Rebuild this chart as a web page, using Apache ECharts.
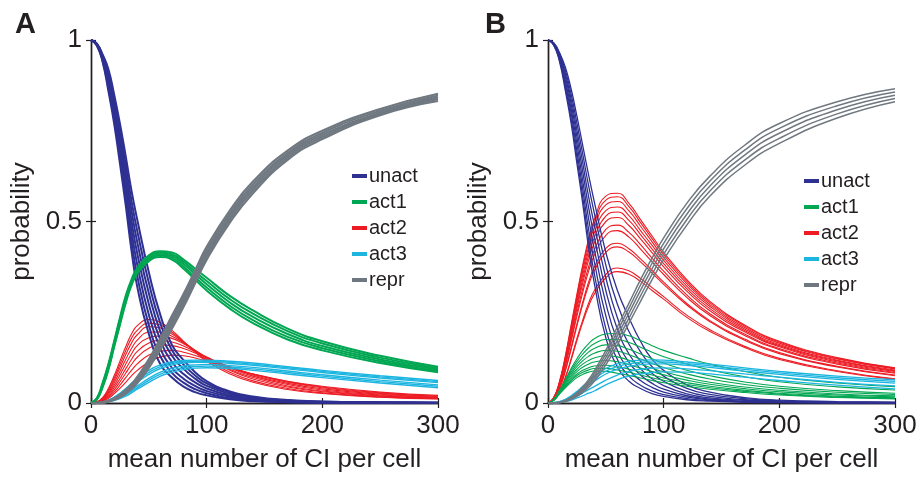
<!DOCTYPE html>
<html>
<head>
<meta charset="utf-8">
<script src="https://cdn.jsdelivr.net/npm/echarts@6/dist/echarts.min.js"></script>
<style>
  html, body { margin: 0; padding: 0; background: #ffffff; }
  #chart { width: 923px; height: 479px; }
</style>
</head>
<body>
<div id="chart"></div>
<script>
// ---------- data ----------
const xs = [0, 5, 10, 15, 20, 25, 30, 35, 40, 50, 60, 70, 80, 90, 100, 120, 140, 170, 200, 250, 300];
const seriesNames = ['unact', 'act1', 'act2', 'act3', 'repr'];
const xTicks = [0, 100, 200, 300];
const yTicks = [0, 0.5, 1];
const panelLabels = ['A', 'B'];

// Panel A
const A_unact = [
  [1, 0.985, 0.94, 0.86, 0.77, 0.66, 0.545, 0.42, 0.32, 0.19, 0.107, 0.07, 0.045, 0.03, 0.021, 0.01, 0.005, 0.002, 0.001, 0.0005, 0],
  [1, 0.986, 0.943, 0.87, 0.783, 0.678, 0.567, 0.447, 0.35, 0.215, 0.128, 0.083, 0.056, 0.038, 0.027, 0.013, 0.007, 0.003, 0.0015, 0.0007, 0.0002],
  [1, 0.987, 0.947, 0.88, 0.797, 0.697, 0.59, 0.474, 0.381, 0.243, 0.15, 0.097, 0.067, 0.047, 0.033, 0.017, 0.009, 0.004, 0.002, 0.001, 0.0003],
  [1, 0.988, 0.95, 0.89, 0.81, 0.715, 0.612, 0.502, 0.412, 0.273, 0.173, 0.113, 0.08, 0.057, 0.04, 0.021, 0.011, 0.005, 0.0025, 0.0012, 0.0005],
  [1, 0.989, 0.953, 0.9, 0.823, 0.734, 0.635, 0.53, 0.443, 0.302, 0.196, 0.13, 0.094, 0.067, 0.047, 0.025, 0.014, 0.006, 0.003, 0.0015, 0.0007],
  [1, 0.99, 0.957, 0.91, 0.837, 0.752, 0.657, 0.557, 0.474, 0.331, 0.219, 0.145, 0.106, 0.076, 0.054, 0.029, 0.016, 0.007, 0.0035, 0.0018, 0.0009],
  [1, 0.99, 0.96, 0.92, 0.85, 0.77, 0.68, 0.585, 0.505, 0.36, 0.242, 0.16, 0.118, 0.085, 0.06, 0.032, 0.018, 0.008, 0.004, 0.002, 0.001]
];
const A_act1 = [
  [0, 0.013, 0.055, 0.107, 0.17, 0.235, 0.295, 0.34, 0.372, 0.407, 0.418, 0.415, 0.395, 0.37, 0.345, 0.295, 0.255, 0.205, 0.17, 0.13, 0.1],
  [0, 0.012, 0.052, 0.103, 0.166, 0.23, 0.29, 0.336, 0.368, 0.403, 0.414, 0.41, 0.389, 0.362, 0.336, 0.286, 0.246, 0.198, 0.164, 0.125, 0.096],
  [0, 0.011, 0.049, 0.099, 0.162, 0.225, 0.285, 0.332, 0.364, 0.399, 0.41, 0.405, 0.383, 0.355, 0.327, 0.277, 0.237, 0.19, 0.157, 0.12, 0.092],
  [0, 0.01, 0.046, 0.095, 0.158, 0.22, 0.28, 0.328, 0.36, 0.395, 0.406, 0.4, 0.376, 0.347, 0.318, 0.268, 0.228, 0.182, 0.151, 0.115, 0.088],
  [0, 0.009, 0.043, 0.091, 0.154, 0.215, 0.275, 0.324, 0.356, 0.391, 0.402, 0.395, 0.37, 0.34, 0.31, 0.26, 0.22, 0.175, 0.145, 0.11, 0.085]
];
const A_act2 = [
  [0, 0.003, 0.015, 0.04, 0.075, 0.115, 0.155, 0.19, 0.213, 0.23, 0.222, 0.2, 0.17, 0.14, 0.115, 0.08, 0.057, 0.037, 0.026, 0.016, 0.011],
  [0, 0.003, 0.013, 0.036, 0.068, 0.106, 0.144, 0.178, 0.2, 0.22, 0.215, 0.195, 0.169, 0.143, 0.119, 0.085, 0.061, 0.04, 0.028, 0.017, 0.012],
  [0, 0.002, 0.012, 0.032, 0.062, 0.097, 0.133, 0.165, 0.188, 0.21, 0.207, 0.19, 0.168, 0.145, 0.123, 0.09, 0.066, 0.044, 0.031, 0.019, 0.013],
  [0, 0.002, 0.01, 0.028, 0.055, 0.087, 0.12, 0.15, 0.173, 0.195, 0.196, 0.184, 0.166, 0.145, 0.125, 0.093, 0.07, 0.047, 0.033, 0.02, 0.014],
  [0, 0.002, 0.009, 0.025, 0.048, 0.077, 0.107, 0.135, 0.158, 0.18, 0.185, 0.178, 0.163, 0.145, 0.127, 0.097, 0.074, 0.051, 0.036, 0.022, 0.015],
  [0, 0.001, 0.008, 0.021, 0.042, 0.067, 0.094, 0.12, 0.142, 0.165, 0.172, 0.168, 0.157, 0.142, 0.126, 0.099, 0.077, 0.054, 0.039, 0.024, 0.016],
  [0, 0.001, 0.007, 0.018, 0.036, 0.058, 0.082, 0.106, 0.126, 0.151, 0.16, 0.158, 0.15, 0.138, 0.125, 0.1, 0.079, 0.057, 0.042, 0.026, 0.018],
  [0, 0.001, 0.006, 0.015, 0.03, 0.049, 0.07, 0.09, 0.108, 0.132, 0.143, 0.145, 0.14, 0.131, 0.12, 0.099, 0.08, 0.059, 0.044, 0.028, 0.019],
  [0, 0.001, 0.005, 0.012, 0.025, 0.04, 0.057, 0.075, 0.09, 0.113, 0.127, 0.132, 0.13, 0.124, 0.115, 0.097, 0.08, 0.06, 0.046, 0.03, 0.021]
];
const A_act3 = [
  [0, 0.001, 0.003, 0.008, 0.016, 0.027, 0.04, 0.054, 0.067, 0.09, 0.105, 0.113, 0.117, 0.118, 0.118, 0.115, 0.11, 0.1, 0.09, 0.075, 0.062],
  [0, 0.0008, 0.0025, 0.007, 0.0145, 0.0245, 0.0365, 0.0495, 0.062, 0.0845, 0.1, 0.109, 0.1135, 0.115, 0.115, 0.112, 0.107, 0.097, 0.087, 0.072, 0.059],
  [0, 0.0005, 0.002, 0.006, 0.013, 0.022, 0.033, 0.045, 0.057, 0.079, 0.095, 0.105, 0.11, 0.112, 0.112, 0.109, 0.104, 0.094, 0.084, 0.069, 0.056],
  [0, 0, 0.0015, 0.0045, 0.01, 0.017, 0.026, 0.036, 0.047, 0.068, 0.085, 0.096, 0.102, 0.105, 0.106, 0.103, 0.098, 0.088, 0.078, 0.063, 0.05],
  [0, 0, 0.0012, 0.0037, 0.0085, 0.0145, 0.0225, 0.032, 0.0425, 0.0625, 0.0795, 0.0905, 0.097, 0.1005, 0.1015, 0.099, 0.094, 0.084, 0.074, 0.059, 0.046],
  [0, 0, 0.001, 0.003, 0.007, 0.012, 0.019, 0.028, 0.038, 0.057, 0.074, 0.085, 0.092, 0.096, 0.097, 0.095, 0.09, 0.08, 0.07, 0.055, 0.042]
];
const A_repr = [
  [0, 0, 0.002, 0.006, 0.013, 0.023, 0.036, 0.052, 0.072, 0.12, 0.178, 0.24, 0.3, 0.365, 0.43, 0.53, 0.61, 0.695, 0.75, 0.81, 0.852],
  [0, 0, 0.0017, 0.0055, 0.012, 0.021, 0.0335, 0.0485, 0.0675, 0.114, 0.17, 0.231, 0.291, 0.356, 0.421, 0.521, 0.602, 0.688, 0.744, 0.805, 0.847],
  [0, 0, 0.0015, 0.005, 0.011, 0.019, 0.031, 0.045, 0.063, 0.108, 0.163, 0.222, 0.283, 0.347, 0.412, 0.513, 0.594, 0.682, 0.738, 0.8, 0.842],
  [0, 0, 0.0012, 0.0045, 0.01, 0.0175, 0.0285, 0.042, 0.059, 0.1025, 0.1555, 0.2135, 0.274, 0.3385, 0.4035, 0.505, 0.586, 0.676, 0.7325, 0.7965, 0.837],
  [0, 0, 0.001, 0.004, 0.009, 0.016, 0.026, 0.039, 0.055, 0.097, 0.148, 0.205, 0.265, 0.33, 0.395, 0.497, 0.578, 0.67, 0.727, 0.793, 0.832]
];

// Panel B
const B_unact = [
  [1, 0.985, 0.94, 0.86, 0.77, 0.66, 0.55, 0.43, 0.33, 0.18, 0.1, 0.06, 0.04, 0.026, 0.018, 0.009, 0.005, 0.002, 0.001, 0, 0],
  [1, 0.986, 0.944, 0.869, 0.783, 0.676, 0.568, 0.453, 0.357, 0.205, 0.12, 0.074, 0.049, 0.033, 0.023, 0.012, 0.007, 0.003, 0.0015, 0.0005, 0.0002],
  [1, 0.987, 0.948, 0.878, 0.797, 0.694, 0.59, 0.48, 0.39, 0.24, 0.145, 0.092, 0.062, 0.043, 0.03, 0.016, 0.009, 0.004, 0.002, 0.0008, 0.0003],
  [1, 0.988, 0.951, 0.888, 0.81, 0.714, 0.613, 0.51, 0.424, 0.275, 0.172, 0.112, 0.077, 0.054, 0.038, 0.02, 0.011, 0.005, 0.0025, 0.001, 0.0005],
  [1, 0.989, 0.955, 0.898, 0.824, 0.733, 0.638, 0.54, 0.458, 0.31, 0.203, 0.135, 0.094, 0.067, 0.048, 0.025, 0.014, 0.007, 0.0035, 0.0015, 0.0007],
  [1, 0.99, 0.958, 0.907, 0.837, 0.752, 0.662, 0.57, 0.492, 0.345, 0.235, 0.162, 0.115, 0.082, 0.06, 0.032, 0.018, 0.009, 0.0045, 0.002, 0.001],
  [1, 0.991, 0.962, 0.916, 0.851, 0.771, 0.686, 0.6, 0.524, 0.38, 0.272, 0.197, 0.141, 0.1, 0.074, 0.04, 0.024, 0.012, 0.006, 0.003, 0.0015],
  [1, 0.992, 0.965, 0.925, 0.865, 0.79, 0.71, 0.63, 0.555, 0.415, 0.31, 0.235, 0.17, 0.12, 0.09, 0.05, 0.03, 0.015, 0.008, 0.004, 0.002]
];
const B_act1 = [
  [0, 0.01, 0.035, 0.065, 0.095, 0.122, 0.145, 0.163, 0.177, 0.19, 0.192, 0.185, 0.172, 0.158, 0.145, 0.125, 0.107, 0.087, 0.071, 0.055, 0.045],
  [0, 0.01, 0.034, 0.0625, 0.09, 0.1145, 0.135, 0.1515, 0.1635, 0.175, 0.175, 0.1665, 0.1535, 0.14, 0.1275, 0.1075, 0.091, 0.0725, 0.0585, 0.0445, 0.036],
  [0, 0.01, 0.033, 0.06, 0.085, 0.107, 0.125, 0.14, 0.15, 0.16, 0.158, 0.148, 0.135, 0.122, 0.11, 0.09, 0.075, 0.058, 0.046, 0.034, 0.027],
  [0, 0.0095, 0.0315, 0.057, 0.08, 0.1, 0.116, 0.1285, 0.137, 0.145, 0.1425, 0.133, 0.121, 0.109, 0.098, 0.08, 0.066, 0.051, 0.0405, 0.0295, 0.0235],
  [0, 0.009, 0.03, 0.054, 0.075, 0.093, 0.107, 0.117, 0.124, 0.13, 0.127, 0.118, 0.107, 0.096, 0.086, 0.07, 0.057, 0.044, 0.035, 0.025, 0.02],
  [0, 0.0085, 0.0285, 0.0505, 0.07, 0.0865, 0.0985, 0.107, 0.113, 0.117, 0.1135, 0.1055, 0.096, 0.0865, 0.0775, 0.063, 0.0515, 0.0395, 0.031, 0.022, 0.017],
  [0, 0.008, 0.027, 0.047, 0.065, 0.08, 0.09, 0.097, 0.102, 0.104, 0.1, 0.093, 0.085, 0.077, 0.069, 0.056, 0.046, 0.035, 0.027, 0.019, 0.014],
  [0, 0.008, 0.026, 0.0445, 0.061, 0.075, 0.0845, 0.091, 0.095, 0.0955, 0.091, 0.0845, 0.077, 0.0695, 0.0625, 0.051, 0.042, 0.032, 0.0245, 0.017, 0.0125],
  [0, 0.008, 0.025, 0.042, 0.057, 0.07, 0.079, 0.085, 0.088, 0.087, 0.082, 0.076, 0.069, 0.062, 0.056, 0.046, 0.038, 0.029, 0.022, 0.015, 0.011]
];
const B_act2 = [
  [0, 0.015, 0.06, 0.13, 0.215, 0.3, 0.38, 0.45, 0.505, 0.57, 0.578, 0.55, 0.505, 0.46, 0.415, 0.34, 0.28, 0.215, 0.17, 0.125, 0.097],
  [0, 0.015, 0.059, 0.127, 0.21, 0.294, 0.373, 0.441, 0.495, 0.559, 0.568, 0.541, 0.497, 0.453, 0.409, 0.335, 0.276, 0.212, 0.168, 0.123, 0.096],
  [0, 0.014, 0.057, 0.123, 0.205, 0.286, 0.363, 0.43, 0.483, 0.546, 0.555, 0.529, 0.487, 0.444, 0.401, 0.329, 0.271, 0.208, 0.165, 0.121, 0.094],
  [0, 0.014, 0.055, 0.119, 0.198, 0.278, 0.352, 0.418, 0.469, 0.53, 0.54, 0.516, 0.475, 0.434, 0.393, 0.322, 0.266, 0.204, 0.161, 0.118, 0.091],
  [0, 0.013, 0.053, 0.115, 0.191, 0.269, 0.341, 0.405, 0.455, 0.515, 0.526, 0.503, 0.464, 0.424, 0.384, 0.315, 0.26, 0.2, 0.158, 0.116, 0.089],
  [0, 0.012, 0.05, 0.111, 0.185, 0.26, 0.33, 0.392, 0.441, 0.5, 0.511, 0.489, 0.452, 0.414, 0.375, 0.308, 0.254, 0.196, 0.155, 0.113, 0.087],
  [0, 0.012, 0.047, 0.105, 0.175, 0.248, 0.315, 0.374, 0.421, 0.478, 0.49, 0.47, 0.436, 0.399, 0.363, 0.298, 0.246, 0.19, 0.15, 0.11, 0.084],
  [0, 0.011, 0.045, 0.101, 0.169, 0.239, 0.304, 0.362, 0.407, 0.462, 0.475, 0.457, 0.424, 0.389, 0.354, 0.291, 0.241, 0.186, 0.147, 0.107, 0.082],
  [0, 0.01, 0.04, 0.091, 0.153, 0.218, 0.278, 0.332, 0.374, 0.426, 0.44, 0.425, 0.397, 0.365, 0.333, 0.274, 0.227, 0.176, 0.139, 0.101, 0.077],
  [0, 0.009, 0.039, 0.088, 0.148, 0.212, 0.271, 0.323, 0.364, 0.415, 0.43, 0.416, 0.389, 0.358, 0.327, 0.27, 0.224, 0.173, 0.136, 0.099, 0.075],
  [0, 0.007, 0.031, 0.071, 0.122, 0.178, 0.228, 0.274, 0.309, 0.354, 0.372, 0.364, 0.343, 0.318, 0.293, 0.242, 0.202, 0.156, 0.123, 0.089, 0.067],
  [0, 0.007, 0.03, 0.069, 0.118, 0.172, 0.222, 0.266, 0.3, 0.345, 0.362, 0.355, 0.335, 0.31, 0.286, 0.236, 0.197, 0.153, 0.12, 0.087, 0.065]
];
const B_act3 = [
  [0, 0.001, 0.004, 0.01, 0.02, 0.032, 0.046, 0.06, 0.073, 0.095, 0.108, 0.115, 0.118, 0.119, 0.118, 0.113, 0.107, 0.097, 0.087, 0.074, 0.064],
  [0, 0.001, 0.0035, 0.009, 0.018, 0.029, 0.0415, 0.0545, 0.0665, 0.0875, 0.1005, 0.108, 0.112, 0.1135, 0.113, 0.1085, 0.1025, 0.0925, 0.083, 0.0695, 0.0595],
  [0, 0.001, 0.003, 0.008, 0.016, 0.026, 0.037, 0.049, 0.06, 0.08, 0.093, 0.101, 0.106, 0.108, 0.108, 0.104, 0.098, 0.088, 0.079, 0.065, 0.055],
  [0, 0, 0.002, 0.006, 0.012, 0.019, 0.028, 0.037, 0.045, 0.063, 0.077, 0.087, 0.093, 0.096, 0.097, 0.094, 0.089, 0.08, 0.071, 0.057, 0.047],
  [0, 0, 0.001, 0.004, 0.008, 0.014, 0.02, 0.027, 0.033, 0.05, 0.064, 0.074, 0.08, 0.084, 0.086, 0.085, 0.08, 0.071, 0.062, 0.049, 0.039]
];
const B_repr = [
  [0, 0, 0.002, 0.007, 0.016, 0.028, 0.044, 0.064, 0.088, 0.145, 0.21, 0.275, 0.34, 0.4, 0.455, 0.55, 0.625, 0.71, 0.77, 0.83, 0.866],
  [0, 0, 0.0018, 0.0063, 0.0145, 0.0255, 0.04, 0.0585, 0.081, 0.135, 0.1975, 0.2615, 0.325, 0.385, 0.44, 0.535, 0.6115, 0.6965, 0.7565, 0.819, 0.857],
  [0, 0, 0.0015, 0.0055, 0.013, 0.023, 0.036, 0.053, 0.074, 0.125, 0.185, 0.248, 0.31, 0.37, 0.425, 0.52, 0.598, 0.683, 0.743, 0.808, 0.848],
  [0, 0, 0.0012, 0.0048, 0.0115, 0.0205, 0.0325, 0.048, 0.067, 0.115, 0.1725, 0.234, 0.295, 0.355, 0.41, 0.505, 0.584, 0.669, 0.729, 0.7965, 0.839],
  [0, 0, 0.001, 0.004, 0.01, 0.018, 0.029, 0.043, 0.06, 0.105, 0.16, 0.22, 0.28, 0.34, 0.395, 0.49, 0.57, 0.655, 0.715, 0.785, 0.83]
];

// ---------- styling ----------
const FONT = '"Liberation Sans", Arial, Helvetica, sans-serif';
const INK = '#231f20';
const colors = { unact: '#2e3192', act1: '#00a651', act2: '#ed1c24', act3: '#1cb5e0', repr: '#6f7880' };
const widths = [
  { unact: 2.0, act1: 2.0, act2: 1.1, act3: 1.4, repr: 2.2 },
  { unact: 1.3, act1: 1.1, act2: 1.1, act3: 1.3, repr: 1.5 }
];
const drawOrder = ['act2', 'unact', 'act1', 'act3', 'repr'];
const panelData = [
  { unact: A_unact, act1: A_act1, act2: A_act2, act3: A_act3, repr: A_repr },
  { unact: B_unact, act1: B_act1, act2: B_act2, act3: B_act3, repr: B_repr }
];
const gridLeft = [91, 548];

function pts(ys) { return xs.map((x, i) => [x, ys[i]]); }

const grids = [], xAxes = [], yAxes = [], series = [], legends = [], titles = [];
panelData.forEach((pd, p) => {
  grids.push({ left: gridLeft[p], top: 40, width: 347, height: 363, show: false, containLabel: false });
  const axLine = { show: true, lineStyle: { color: INK, width: 1.4 } };
  xAxes.push({
    type: 'value', gridIndex: p, position: 'bottom', min: xTicks[0], max: xTicks[xTicks.length - 1], interval: 100,
    axisLine: axLine, axisTick: { show: true, inside: true, length: 5, lineStyle: { color: INK, width: 1.2 } },
    splitLine: { show: false },
    axisLabel: { show: true, fontSize: 26, color: INK, fontFamily: FONT, margin: 10 },
    name: 'mean number of CI per cell', nameLocation: 'middle', nameGap: 44,
    nameTextStyle: { fontSize: 26, color: INK, fontFamily: FONT }
  });
  xAxes.push({
    type: 'value', gridIndex: p, position: 'top', min: xTicks[0], max: xTicks[xTicks.length - 1], interval: 100,
    axisLine: axLine, axisTick: { show: true, inside: true, length: 5, lineStyle: { color: INK, width: 1.2 } },
    splitLine: { show: false }, axisLabel: { show: false }
  });
  yAxes.push({
    type: 'value', gridIndex: p, position: 'left', min: yTicks[0], max: yTicks[yTicks.length - 1], interval: 0.5,
    axisLine: axLine, axisTick: { show: true, inside: true, length: 5, lineStyle: { color: INK, width: 1.2 } },
    splitLine: { show: false },
    axisLabel: { show: true, fontSize: 26, color: INK, fontFamily: FONT, margin: 9 },
    name: 'probability', nameLocation: 'middle', nameGap: 56, nameRotate: 90,
    nameTextStyle: { fontSize: 26, color: INK, fontFamily: FONT }
  });
  yAxes.push({
    type: 'value', gridIndex: p, position: 'right', min: yTicks[0], max: yTicks[yTicks.length - 1], interval: 0.5,
    axisLine: axLine, axisTick: { show: true, inside: true, length: 5, lineStyle: { color: INK, width: 1.2 } },
    splitLine: { show: false }, axisLabel: { show: false }
  });
  drawOrder.forEach(name => {
    pd[name].forEach(curve => {
      series.push({
        type: 'line', name: name, xAxisIndex: p * 2, yAxisIndex: p * 2,
        data: pts(curve), showSymbol: false, symbol: 'none', smooth: 0.5,
        lineStyle: { color: colors[name], width: widths[p][name] },
        itemStyle: { color: colors[name] },
        emphasis: { disabled: true }, silent: true, clip: true
      });
    });
  });
  legends.push({
    show: true, orient: 'vertical', left: p === 0 ? 347 : 799, top: p === 0 ? 161 : 166,
    data: seriesNames, icon: 'rect', itemWidth: 15, itemHeight: 4, itemGap: 6,
    selectedMode: false,
    textStyle: { fontSize: 20, lineHeight: 20, color: INK, fontFamily: FONT, padding: [0, 0, 0, -3] }
  });
  titles.push({
    text: panelLabels[p], left: p === 0 ? 10 : 480, top: 5,
    textStyle: { fontSize: 29, fontWeight: 'bold', color: INK, fontFamily: FONT }
  });
});

const chart = echarts.init(document.getElementById('chart'), null, { renderer: 'canvas' });
chart.setOption({
  animation: false,
  backgroundColor: '#ffffff',
  title: titles,
  legend: legends,
  grid: grids,
  xAxis: xAxes,
  yAxis: yAxes,
  series: series
});
</script>
</body>
</html>
